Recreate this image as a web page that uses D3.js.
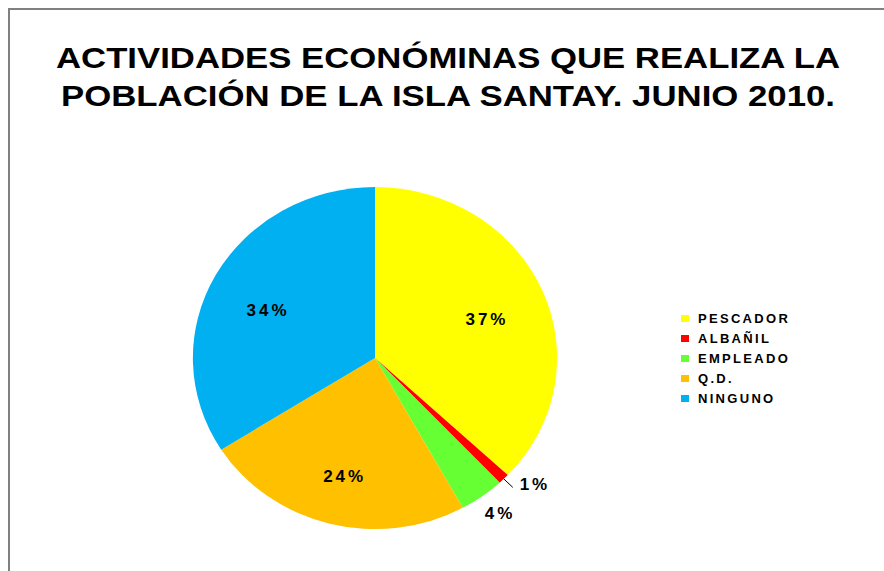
<!DOCTYPE html>
<html>
<head>
<meta charset="utf-8">
<script src="https://cdn.jsdelivr.net/npm/d3@7"></script>
<style>
  body { margin: 0; background: #fff; }
  svg { display: block; font-family: "Liberation Sans", Arial, sans-serif; }
</style>
</head>
<body>
<div id="chart"></div>
<script>
var categories = ["PESCADOR", "ALBAÑIL", "EMPLEADO", "Q.D.", "NINGUNO"];
var values = [37, 1, 4, 24, 34];
var colors = ["#FFFF00", "#FF0000", "#66FF33", "#FFC000", "#00B0F0"];
var titleLines = ["ACTIVIDADES ECONÓMINAS QUE REALIZA LA", "POBLACIÓN DE LA ISLA SANTAY. JUNIO 2010."];

var width = 884, height = 571;
var cx = 375, cy = 358; // pie centre
var radius = 171;
var stretchX = 1.065; // the pie in the picture is a little wider than tall

var data = categories.map(function (c, i) {
    return { name: c, value: values[i], color: colors[i] };
});

var svg = d3.select("#chart").append("svg")
    .attr("width", width)
    .attr("height", height);

// frame (only top and left edges show)
svg.append("path")
    .attr("d", "M9," + height + "V9H" + width)
    .attr("fill", "none")
    .attr("stroke", "#808080")
    .attr("stroke-width", 2);

// title
svg.selectAll("text.title").data(titleLines).enter().append("text")
    .attr("class", "title")
    .attr("x", 448)
    .attr("y", function (d, i) { return 68 + i * 38; })
    .attr("text-anchor", "middle")
    .attr("font-size", 30)
    .attr("font-weight", "bold")
    .attr("textLength", function (d, i) { return i === 0 ? 784 : 774; })
    .attr("lengthAdjust", "spacingAndGlyphs")
    .text(String);

var pie = d3.pie().sort(null).value(function (d) { return d.value; });
var arcs = pie(data);

var arc = d3.arc().innerRadius(0).outerRadius(radius);

var pieG = svg.append("g")
    .attr("transform", "translate(" + cx + "," + cy + ") scale(" + stretchX + ",1)");

pieG.selectAll("path").data(arcs).enter().append("path")
    .attr("d", arc)
    .attr("fill", function (d) { return d.data.color; });

// label positions (computed in pie space, then stretched)
var pos = function (d, k) {
    var a = (d.startAngle + d.endAngle) / 2;
    return [cx + Math.sin(a) * radius * k * stretchX, cy - Math.cos(a) * radius * k];
};

var labelsG = svg.append("g")
    .attr("font-size", 17)
    .attr("font-weight", "bold")
    .attr("letter-spacing", 3);

var inside = arcs.filter(function (d) { return d.data.value >= 10; });
var outside = arcs.filter(function (d) { return d.data.value < 10; });

labelsG.selectAll("text.in").data(inside).enter().append("text")
    .attr("class", "in")
    .attr("x", function (d) { return pos(d, 0.67)[0]; })
    .attr("y", function (d) { return pos(d, 0.67)[1] + 7; })
    .attr("dy", ".35em")
    .attr("text-anchor", "middle")
    .text(function (d) { return d.data.value + "%"; });

// small slices: 1% gets a leader line, 4% sits just outside
outside.forEach(function (d) {
    var p;
    if (d.data.value < 2) {
        var p0 = pos(d, 1.0), p1 = pos(d, 1.07);
        svg.append("line")
            .attr("x1", p0[0]).attr("y1", p0[1])
            .attr("x2", p1[0]).attr("y2", p1[1])
            .attr("stroke", "#000")
            .attr("stroke-width", 1);
        p = pos(d, 1.1);
        labelsG.append("text")
            .attr("x", p[0] + 3)
            .attr("y", p[1] - 7)
            .attr("dy", ".35em")
            .attr("text-anchor", "start")
            .text(d.data.value + "%");
    } else {
        p = pos(d, 1.15);
        labelsG.append("text")
            .attr("x", p[0] + 2)
            .attr("y", p[1] - 4)
            .attr("dy", ".35em")
            .attr("text-anchor", "middle")
            .text(d.data.value + "%");
    }
});

// legend
var legend = svg.append("g")
    .attr("transform", "translate(681,318)");

var row = legend.selectAll("g").data(data).enter().append("g")
    .attr("transform", function (d, i) { return "translate(0," + i * 20 + ")"; });

row.append("rect")
    .attr("x", 0)
    .attr("y", -3)
    .attr("width", 8)
    .attr("height", 7)
    .attr("fill", function (d) { return d.color; });

row.append("text")
    .attr("x", 17)
    .attr("y", 0)
    .attr("dy", ".35em")
    .attr("font-size", 13)
    .attr("font-weight", "bold")
    .attr("letter-spacing", 2.3)
    .text(function (d) { return d.name; });
</script>
</body>
</html>
